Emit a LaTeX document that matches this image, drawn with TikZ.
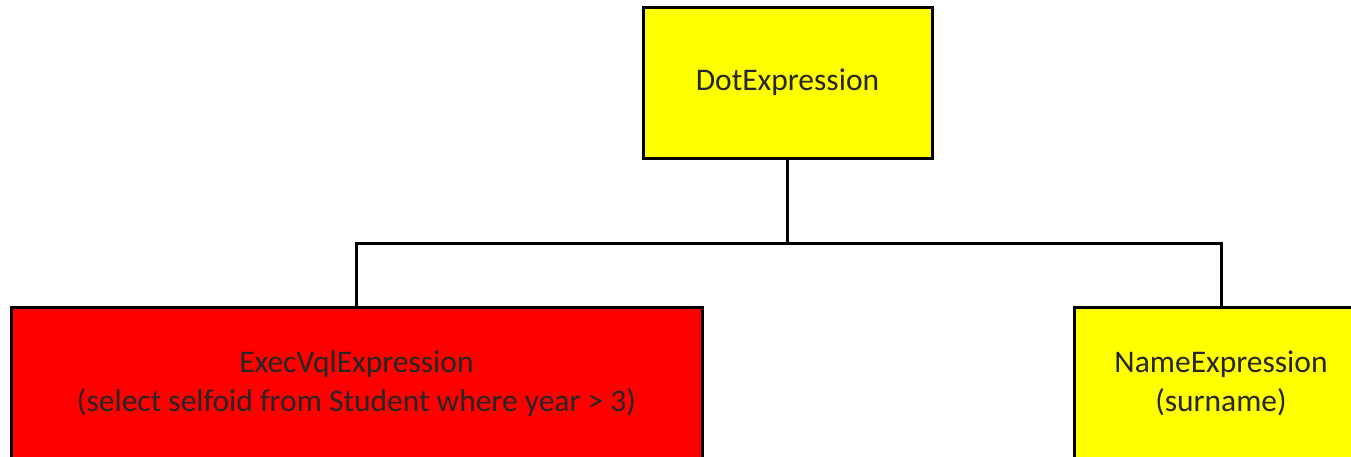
\documentclass[tikz,border=0pt]{standalone}
\usepackage{fontspec}
\setmainfont{Carlito}
\definecolor{boxyellow}{RGB}{255,255,0}
\definecolor{boxred}{RGB}{255,0,0}
\begin{document}
\begin{tikzpicture}[x=1pt,y=-1pt,
  exprbox/.style={draw=black, line width=3pt, inner sep=0pt, align=center,
    font=\fontsize{31.5}{38.5}\selectfont, text=black!85},
  wire/.style={draw=black, line width=3pt}]
  \useasboundingbox (0,0) rectangle (1351,456);
  \clip (0,0) rectangle (1351,456);
  % parent node
  \node[exprbox, fill=boxyellow, minimum width=289pt, minimum height=151pt] (dot) at (787.5,82.5) {DotExpression};
  % children (their lower parts run past the page edge)
  \node[exprbox, fill=boxred, minimum width=691pt, minimum height=153pt] (exec) at (356.5,383.5) {ExecVqlExpression\\(select selfoid from Student where year > 3)};
  \node[exprbox, fill=boxyellow, minimum width=294pt, minimum height=153pt] (name) at (1221,383.5) {NameExpression\\(surname)};
  % tree connectors
  \coordinate (bus) at (0,243);
  \draw[wire] (dot.south) -- (dot.south |- bus);
  \draw[wire] (exec.north) |- (dot.south |- bus) -| (name.north);
\end{tikzpicture}
\end{document}
